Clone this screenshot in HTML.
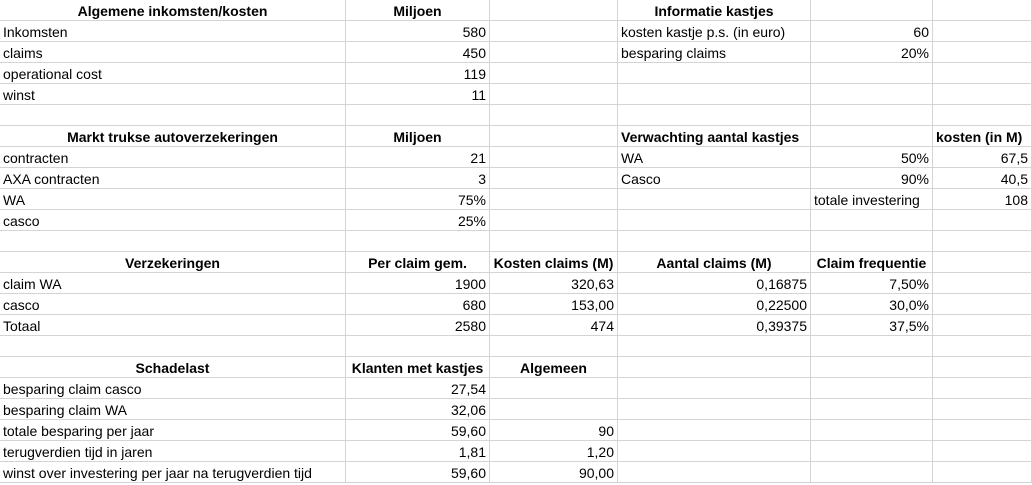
<!DOCTYPE html>
<html><head><meta charset="utf-8"><style>
body{margin:0;background:#fff;width:1032px;height:485px;overflow:hidden}
table{border-collapse:collapse;table-layout:fixed;font-family:"Liberation Sans",Arial,sans-serif;font-size:14px;color:#000;margin-top:-1px;margin-left:-1px}
td{border:1px solid #d4d4d4;height:17px;padding:3px 3px 0 3px;white-space:nowrap;overflow:visible;line-height:17px}
.b{font-weight:bold;text-align:center}
.bl{font-weight:bold}
.r{text-align:right}
</style></head><body>
<table>
<colgroup><col style="width:346px"><col style="width:144px"><col style="width:128px"><col style="width:193px"><col style="width:122px"><col style="width:99px"></colgroup>
<tr><td class="b">Algemene inkomsten/kosten</td><td class="b">Miljoen</td><td></td><td class="b">Informatie kastjes</td><td></td><td></td></tr>
<tr><td>Inkomsten</td><td class="r">580</td><td></td><td>kosten kastje p.s. (in euro)</td><td class="r">60</td><td></td></tr>
<tr><td>claims</td><td class="r">450</td><td></td><td>besparing claims</td><td class="r">20%</td><td></td></tr>
<tr><td>operational cost</td><td class="r">119</td><td></td><td></td><td></td><td></td></tr>
<tr><td>winst</td><td class="r">11</td><td></td><td></td><td></td><td></td></tr>
<tr><td></td><td></td><td></td><td></td><td></td><td></td></tr>
<tr><td class="b">Markt trukse autoverzekeringen</td><td class="b">Miljoen</td><td></td><td class="bl">Verwachting aantal kastjes</td><td></td><td class="bl">kosten (in M)</td></tr>
<tr><td>contracten</td><td class="r">21</td><td></td><td>WA</td><td class="r">50%</td><td class="r">67,5</td></tr>
<tr><td>AXA contracten</td><td class="r">3</td><td></td><td>Casco</td><td class="r">90%</td><td class="r">40,5</td></tr>
<tr><td>WA</td><td class="r">75%</td><td></td><td></td><td>totale investering</td><td class="r">108</td></tr>
<tr><td>casco</td><td class="r">25%</td><td></td><td></td><td></td><td></td></tr>
<tr><td></td><td></td><td></td><td></td><td></td><td></td></tr>
<tr><td class="b">Verzekeringen</td><td class="b">Per claim gem.</td><td class="b">Kosten claims (M)</td><td class="b">Aantal claims (M)</td><td class="b">Claim frequentie</td><td></td></tr>
<tr><td>claim WA</td><td class="r">1900</td><td class="r">320,63</td><td class="r">0,16875</td><td class="r">7,50%</td><td></td></tr>
<tr><td>casco</td><td class="r">680</td><td class="r">153,00</td><td class="r">0,22500</td><td class="r">30,0%</td><td></td></tr>
<tr><td>Totaal</td><td class="r">2580</td><td class="r">474</td><td class="r">0,39375</td><td class="r">37,5%</td><td></td></tr>
<tr><td></td><td></td><td></td><td></td><td></td><td></td></tr>
<tr><td class="b">Schadelast</td><td class="b">Klanten met kastjes</td><td class="b">Algemeen</td><td></td><td></td><td></td></tr>
<tr><td>besparing claim casco</td><td class="r">27,54</td><td></td><td></td><td></td><td></td></tr>
<tr><td>besparing claim WA</td><td class="r">32,06</td><td></td><td></td><td></td><td></td></tr>
<tr><td>totale besparing per jaar</td><td class="r">59,60</td><td class="r">90</td><td></td><td></td><td></td></tr>
<tr><td>terugverdien tijd in jaren</td><td class="r">1,81</td><td class="r">1,20</td><td></td><td></td><td></td></tr>
<tr><td>winst over investering per jaar na terugverdien tijd</td><td class="r">59,60</td><td class="r">90,00</td><td></td><td></td><td></td></tr>
</table>
</body></html>
